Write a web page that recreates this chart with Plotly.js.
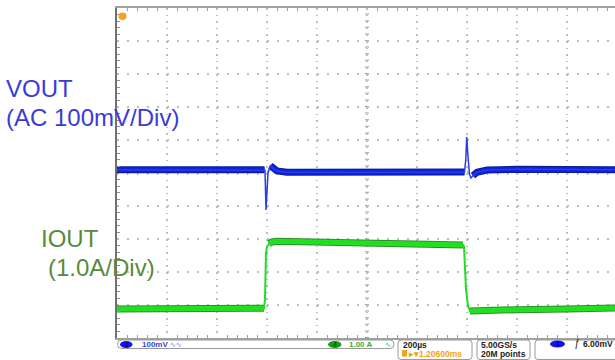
<!DOCTYPE html>
<html>
<head>
<meta charset="utf-8">
<script src="https://cdn.plot.ly/plotly-3.0.1.min.js"></script>
<style>
html,body{margin:0;padding:0;background:#fff;overflow:hidden;}
#chart{width:615px;height:360px;}
</style>
</head>
<body>
<div id="chart"></div>
<script>
// ---- data (time in µs, 200 µs/div) ----
// VOUT (AC coupled, mV) - thin full trace
const voutT  = [0, 580, 592, 596, 600, 604, 614, 624, 640, 680, 1380, 1390, 1395, 1399, 1404, 1410, 1416, 1424, 1440, 1480, 1600, 1992];
const voutMv = [10, 10, 8, -112, -50, 0, 24, 14, 6, 2, 2, 3, 40, 109, 50, -5, -15, -8, 2, 9, 11, 10];
// VOUT noise band (flat parts only)
const voutBandT  = [0, 590, 592, 612, 614, 624, 640, 680, 1380, 1390, 1392, 1418, 1424, 1440, 1480, 1600, 1992];
const voutBandMv = [10, 10, null, null, 22, 14, 6, 2, 2, 3, null, null, -8, 2, 9, 11, 10];

// IOUT (A) - thin full trace
const ioutT = [0, 400, 588, 592, 596, 600, 608, 620, 640, 900, 1200, 1384, 1388, 1392, 1396, 1404, 1412, 1440, 1600, 1800, 1992];
const ioutA = [0, 0.01, 0.02, 0.3, 1.7, 1.88, 1.98, 2.03, 2.05, 2.02, 1.98, 1.94, 1.9, 1.3, 0.6, 0.1, -0.06, -0.05, -0.02, 0.0, 0.03];
// IOUT noise band
const ioutBandT = [0, 400, 588, 590, 604, 608, 620, 640, 900, 1200, 1384, 1386, 1406, 1412, 1440, 1600, 1800, 1992];
const ioutBandA = [0, 0.01, 0.02, null, null, 1.98, 2.03, 2.05, 2.02, 1.98, 1.94, null, null, -0.06, -0.05, -0.02, 0.0, 0.03];

// text
const chLabels = {vout1:'VOUT', vout2:'(AC 100mV/Div)', iout1:'IOUT', iout2:'(1.0A/Div)'};
const statusText = {ch1Scale:'100mV', ch4Scale:'1.00 A', timeDiv:'200µs', hpos:'1.20600ms', rate:'5.00GS/s', rec:'20M points', trig:'6.00mV'};

// ---- geometry helpers (pixel -> paper) ----
const L = 117, T = 8, W = 498, H = 330;
const PX = p => (p - L) / W;
const PY = p => (T + H - p) / H;

const traces = [
  {x: voutBandT, y: voutBandMv, mode:'lines', line:{color:'#121a8c', width:7}, hoverinfo:'skip', connectgaps:false},
  {x: voutBandT, y: voutBandMv, mode:'lines', line:{color:'#0b22e2', width:5}, hoverinfo:'skip', connectgaps:false},
  {x: voutT, y: voutMv, mode:'lines', line:{color:'#2a3ce8', width:1.5}, name:'VOUT'},
  {x: ioutBandT, y: ioutBandA, yaxis:'y2', mode:'lines', line:{color:'#2f8a2f', width:7}, hoverinfo:'skip', connectgaps:false},
  {x: ioutBandT, y: ioutBandA, yaxis:'y2', mode:'lines', line:{color:'#20e620', width:5}, hoverinfo:'skip', connectgaps:false},
  {x: ioutT, y: ioutA, yaxis:'y2', mode:'lines', line:{color:'#22dd22', width:2}, name:'IOUT'}
];

const font = 'Liberation Sans, Arial, sans-serif';
const sb = {family: font, size: 8.5, color:'#222', weight:'bold'};

function rrect(x0, y0, x1, y1, r) {
  const a = (px, py) => PX(px) + ',' + PY(py);
  return 'M' + a(x0 + r, y0) + ' L' + a(x1 - r, y0) + ' Q' + a(x1, y0) + ' ' + a(x1, y0 + r) +
         ' L' + a(x1, y1 - r) + ' Q' + a(x1, y1) + ' ' + a(x1 - r, y1) +
         ' L' + a(x0 + r, y1) + ' Q' + a(x0, y1) + ' ' + a(x0, y1 - r) +
         ' L' + a(x0, y0 + r) + ' Q' + a(x0, y0) + ' ' + a(x0 + r, y0) + ' Z';
}

const shapes = [
  {type:'line', xref:'x', yref:'paper', x0:1000, x1:1000, y0:0, y1:1, line:{color:'#a0a0a0', width:4, dash:'1px,5.6px'}, layer:'below'},
  {type:'line', xref:'paper', yref:'y', x0:0, x1:1, y0:0, y1:0, line:{color:'#a0a0a0', width:4, dash:'1px,9px'}, layer:'below'},
  {type:'circle', xref:'paper', yref:'paper', x0:PX(118.5), x1:PX(126.5), y0:PY(12.5), y1:PY(20), fillcolor:'#f5a020', line:{width:0}},
  {type:'path', xref:'paper', yref:'paper', path: rrect(117.5, 340, 394, 348.5, 4), line:{color:'#9a9a9a', width:1}},
  {type:'path', xref:'paper', yref:'paper', path: rrect(398, 340, 472, 359.5, 3), line:{color:'#9a9a9a', width:1}},
  {type:'path', xref:'paper', yref:'paper', path: rrect(477, 340, 530, 359.5, 3), line:{color:'#9a9a9a', width:1}},
  {type:'path', xref:'paper', yref:'paper', path: rrect(535, 340, 625, 359.5, 3), line:{color:'#9a9a9a', width:1}},
  {type:'circle', xref:'paper', yref:'paper', x0:PX(120), x1:PX(132.5), y0:PY(341), y1:PY(348), fillcolor:'#1414e6', line:{width:0}},
  {type:'circle', xref:'paper', yref:'paper', x0:PX(328), x1:PX(341.5), y0:PY(341), y1:PY(348), fillcolor:'#14a014', line:{width:0}},
  {type:'circle', xref:'paper', yref:'paper', x0:PX(550), x1:PX(565), y0:PY(340.5), y1:PY(347.5), fillcolor:'#1414e6', line:{width:0}},
  {type:'rect', xref:'paper', yref:'paper', x0:PX(402), x1:PX(407), y0:PY(350), y1:PY(356.5), fillcolor:'#f5a020', line:{width:0}}
];

function ann(text, px, py, opts) {
  return Object.assign({text, xref:'paper', yref:'paper', x:PX(px), y:PY(py), xanchor:'left', yanchor:'middle', showarrow:false, borderpad:0}, opts);
}

const blueTxt = '#3b3bd4', greenTxt = '#5a8a3c';
const annotations = [
  ann(chLabels.vout1, 5, 88, {font:{family:font, size:24, color:blueTxt}}),
  ann(chLabels.vout2, 5, 117.5, {font:{family:font, size:24, color:blueTxt}}),
  ann(chLabels.iout1, 40, 238, {font:{family:font, size:24, color:greenTxt}}),
  ann(chLabels.iout2, 47, 267.5, {font:{family:font, size:24, color:greenTxt}}),
  ann('1', 124, 344.5, {font:{family:font, size:7, color:'#000060'}}),
  ann(statusText.ch1Scale, 141, 344.5, {font:{family:font, size:8, color:'#3344dd', weight:'bold'}}),
  ann('∿∿', 169, 344.5, {font:{family:'DejaVu Sans', size:7, color:'#6677ee'}}),
  ann('4', 332, 344.5, {font:{family:font, size:7, color:'#004000'}}),
  ann(statusText.ch4Scale, 348, 344.5, {font:{family:font, size:8, color:'#33b033', weight:'bold'}}),
  ann('∿', 384, 344.5, {font:{family:'DejaVu Sans', size:7, color:'#33b033'}}),
  ann(statusText.timeDiv, 402, 344.5, {font:sb}),
  ann('▸▾' + statusText.hpos, 407, 354, {font:{family:font, size:8.5, color:'#f0a020', weight:'bold'}}),
  ann(statusText.rate, 480, 344.5, {font:sb}),
  ann(statusText.rec, 480, 354, {font:sb}),
  ann('1', 555, 344, {font:{family:font, size:7, color:'#000060'}}),
  ann('ƒ', 573, 344, {font:{family:font, size:10, color:'#222', style:'italic'}}),
  ann(statusText.trig, 582, 344, {font:sb})
];

const layout = {
  width: 615, height: 360,
  margin: {l: L, r: 0, t: T, b: 360 - T - H, pad: 0},
  paper_bgcolor: '#ffffff', plot_bgcolor: '#ffffff',
  showlegend: false,
  xaxis: {
    range: [0, 1992], tick0: 0, dtick: 200, showticklabels: false,
    showgrid: true, gridcolor: '#bdbdbd', gridwidth: 1.5, griddash: '1.5px,5.1px',
    zeroline: false, showline: true, linecolor: '#a0a0a0', linewidth: 2, mirror: 'ticks',
    ticks: 'inside', ticklen: 0,
    minor: {dtick: 40, tick0: 0, ticks: 'inside', ticklen: 3, tickcolor: '#a0a0a0', tickwidth: 1, showgrid: false}
  },
  yaxis: {
    range: [-500, 500], tick0: 0, dtick: 100, showticklabels: false,
    showgrid: true, gridcolor: '#bdbdbd', gridwidth: 1.5, griddash: '1.5px,8.5px',
    zeroline: false, showline: true, linecolor: '#707070', linewidth: 2, mirror: false,
    ticks: 'inside', ticklen: 0,
    minor: {dtick: 20, tick0: 0, ticks: 'inside', ticklen: 3, tickcolor: '#909090', tickwidth: 1, showgrid: false}
  },
  yaxis2: {range: [-0.879, 9.121], overlaying: 'y', visible: false},
  shapes, annotations
};

Plotly.newPlot('chart', traces, layout, {staticPlot: true, displayModeBar: false});
</script>
</body>
</html>
